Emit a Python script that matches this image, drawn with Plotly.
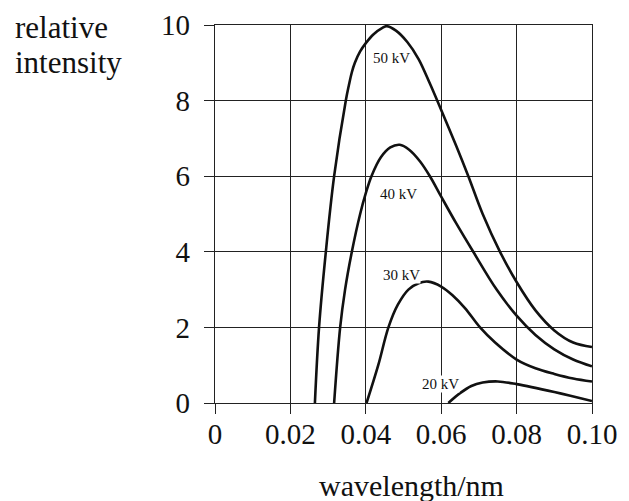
import plotly.graph_objects as go

# ---- data ----
x_50kv = [0.0265, 0.0276, 0.0294, 0.0316, 0.0347, 0.0355, 0.0363, 0.0371, 0.0385, 0.0400, 0.0420, 0.0445, 0.0455, 0.0480, 0.0510, 0.0540, 0.0570, 0.0600, 0.0640, 0.0672, 0.0710, 0.0756, 0.0800, 0.0850, 0.0900, 0.0950, 0.1000]
y_50kv = [0.0, 2.0, 4.0, 6.0, 8.0, 8.4, 8.75, 9.0, 9.3, 9.52, 9.75, 9.93, 9.97, 9.85, 9.55, 9.1, 8.45, 7.75, 6.8, 6.0, 5.0, 4.0, 3.2, 2.45, 1.92, 1.6, 1.48]

x_40kv = [0.0316, 0.0332, 0.0345, 0.0363, 0.0385, 0.0400, 0.0415, 0.0440, 0.0465, 0.0490, 0.0515, 0.0544, 0.0570, 0.0600, 0.0640, 0.0685, 0.0747, 0.0800, 0.0850, 0.0900, 0.0950, 0.1000]
y_40kv = [0.0, 2.0, 3.0, 4.0, 5.0, 5.55, 6.0, 6.5, 6.76, 6.83, 6.7, 6.39, 6.0, 5.46, 4.75, 4.0, 3.0, 2.31, 1.8, 1.42, 1.15, 0.97]

x_30kv = [0.0402, 0.0433, 0.0460, 0.0485, 0.0513, 0.0540, 0.0566, 0.0600, 0.0630, 0.0663, 0.0703, 0.0743, 0.0800, 0.0850, 0.0900, 0.0950, 0.1000]
y_30kv = [0.0, 1.0, 2.0, 2.6, 3.0, 3.17, 3.21, 3.08, 2.85, 2.51, 2.0, 1.6, 1.15, 0.92, 0.77, 0.65, 0.57]

x_20kv = [0.0619, 0.0650, 0.0680, 0.0710, 0.0750, 0.0800, 0.0900, 0.1000]
y_20kv = [0.0, 0.26, 0.45, 0.54, 0.57, 0.50, 0.29, 0.05]

series_names = ["50 kV", "40 kV", "30 kV", "20 kV"]
label_x = [0.0467, 0.0488, 0.0495, 0.0597]
label_y = [9.13, 5.53, 3.39, 0.49]

x_tickvals = [0, 0.02, 0.04, 0.06, 0.08, 0.10]
x_ticktext = ["0", "0.02", "0.04", "0.06", "0.08", "0.10"]
y_tickvals = [0, 2, 4, 6, 8, 10]
y_ticktext = ["0", "2", "4", "6", "8", "10"]

FONT = "Liberation Serif, Times New Roman, serif"

fig = go.Figure()
for xs, ys in [(x_50kv, y_50kv), (x_40kv, y_40kv), (x_30kv, y_30kv), (x_20kv, y_20kv)]:
    fig.add_trace(go.Scatter(x=xs, y=ys, mode="lines",
                             line=dict(color="#111111", width=2.6, shape="spline", smoothing=1.0),
                             showlegend=False, hoverinfo="skip"))

for name, lx, ly in zip(series_names, label_x, label_y):
    fig.add_annotation(x=lx, y=ly, text=name, showarrow=False,
                       font=dict(family=FONT, size=15, color="#111111"),
                       bgcolor="white", borderpad=0)

axis_common = dict(showgrid=True, gridcolor="#222222", gridwidth=1.2,
                   showline=True, linecolor="#222222", linewidth=1.2, mirror=True,
                   ticks="outside", ticklen=10, tickwidth=1.2, tickcolor="#222222",
                   zeroline=False, automargin=False,
                   tickfont=dict(family=FONT, size=29, color="#111111"))

fig.update_xaxes(range=[0, 0.1], tickvals=x_tickvals, ticktext=x_ticktext,
                 ticklabelstandoff=-5, **axis_common)
fig.update_yaxes(range=[0, 10], tickvals=y_tickvals, ticktext=y_ticktext,
                 ticklabelstandoff=8, **axis_common)

# axis titles as free text (positions relative to the plot area)
fig.add_annotation(xref="paper", yref="paper", x=(411 - 215) / 377, y=(403 - 485) / 378,
                   text="wavelength/nm", showarrow=False, xanchor="center", yanchor="middle",
                   font=dict(family=FONT, size=30, color="#111111"))
fig.add_annotation(xref="paper", yref="paper", x=(13 - 215) / 377, y=(403 - 28) / 378,
                   text="relative", showarrow=False, xanchor="left", yanchor="middle",
                   font=dict(family=FONT, size=31, color="#111111"))
fig.add_annotation(xref="paper", yref="paper", x=(13 - 215) / 377, y=(403 - 62) / 378,
                   text="intensity", showarrow=False, xanchor="left", yanchor="middle",
                   font=dict(family=FONT, size=31, color="#111111"))

# the page puts the figure 8px in from the top-left corner
fig.update_layout(width=621, height=493,
                  margin=dict(l=207, r=37, t=17, b=98),
                  plot_bgcolor="white", paper_bgcolor="white")

fig.write_html("out.html")
